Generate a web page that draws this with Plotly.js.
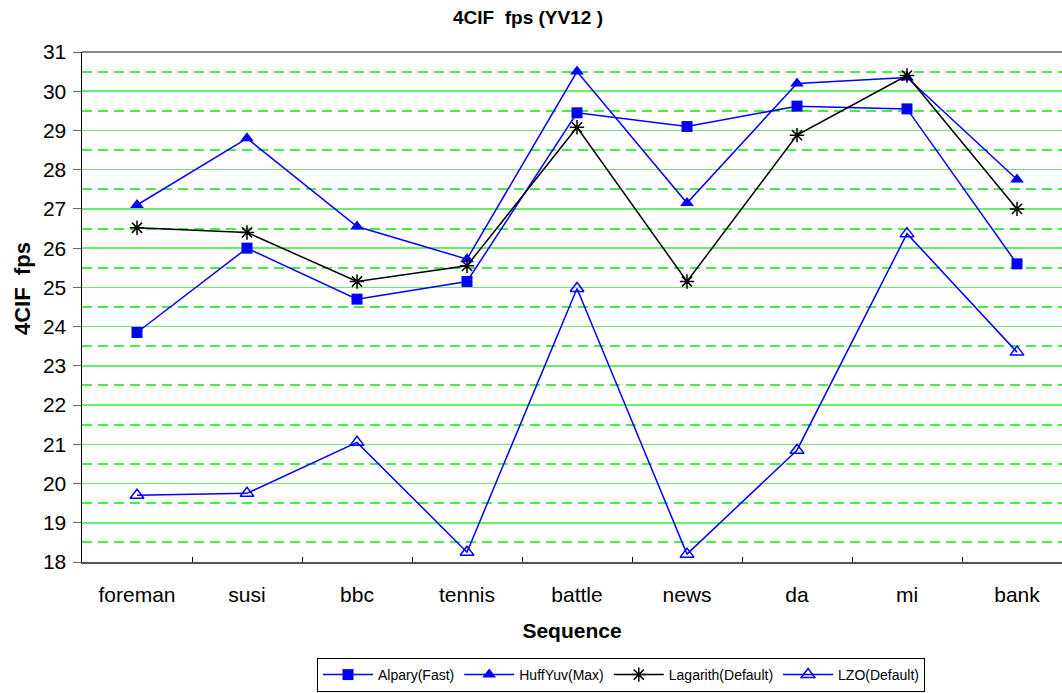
<!DOCTYPE html>
<html><head><meta charset="utf-8">
<script src="https://cdn.plot.ly/plotly-3.0.1.min.js"></script>
<style>html,body{margin:0;padding:0;overflow:hidden;background:#fff}</style>
</head><body><div id="chart"></div>
<script>
const categories = ["foreman","susi","bbc","tennis","battle","news","da","mi","bank"];
const alpary   = [23.85, 26.0, 24.7, 25.15, 29.45, 29.1, 29.62, 29.55, 25.6];
const huffyuv  = [27.1, 28.8, 26.55, 25.72, 30.5, 27.15, 30.2, 30.35, 27.75];
const lagarith = [26.52, 26.4, 25.15, 25.55, 29.08, 25.15, 28.88, 30.4, 27.0];
const lzo      = [19.7, 19.75, 21.05, 18.25, 24.97, 18.2, 20.85, 26.37, 23.35];
const seriesNames = ["Alpary(Fast)","HuffYuv(Max)","Lagarith(Default)","LZO(Default)"];
const yTicks = [18,19,20,21,22,23,24,25,26,27,28,29,30,31];
const yHalfTicks = [18.5,19.5,20.5,21.5,22.5,23.5,24.5,25.5,26.5,27.5,28.5,29.5,30.5];

const font = "Arial, 'Liberation Sans', sans-serif";
const W = 1062, H = 693, L = 82, T = 52, B = 131;
const plotW = W - L, plotH = H - T - B;
const traces = [
  {x:categories, y:alpary, name:seriesNames[0], mode:'lines+markers',
   line:{color:'#0000ff', width:1.5}, marker:{symbol:'square', size:11, color:'#0000ff'}},
  {x:categories, y:huffyuv, name:seriesNames[1], mode:'lines+markers',
   line:{color:'#0000ff', width:1.5}, marker:{symbol:'triangle-up', size:12, color:'#0000ff'}},
  {x:categories, y:lagarith, name:seriesNames[2], mode:'lines+markers',
   line:{color:'#000000', width:1.5}, marker:{symbol:'asterisk-open', size:12, color:'#000000', line:{color:'#000000', width:1.5}}},
  {x:categories, y:lzo, name:seriesNames[3], mode:'lines+markers',
   line:{color:'#0000ff', width:1.5}, marker:{symbol:'triangle-up-open', size:12, color:'#0000ff', line:{color:'#0000ff', width:1.5}}},
  {x:[categories[0]], y:[null], yaxis:'y2', showlegend:false, hoverinfo:'skip', mode:'markers'}
];

const layout = {
  width: W, height: H,
  margin: {l:L, r:0, t:T, b:B, autoexpand:false},
  paper_bgcolor:'#ffffff', plot_bgcolor:'#ffffff',
  font: {family: font, color:'#000'},
  title: {text:'<b>4CIF  fps (YV12 )</b>', font:{size:19, family:font, color:'#000'},
          x: 528/W, xanchor:'center', y: 1-17/H, yanchor:'middle'},
  showlegend: true,
  legend: {orientation:'h', x:(621-L)/plotW, xanchor:'center', y:-(692-562)/plotH, yanchor:'bottom',
           bordercolor:'#000', borderwidth:1, font:{size:14, family:font},
           itemwidth:50, tracegroupgap:0},
  xaxis: {
    type:'category', range:[-0.5, 8.5 - 10/110], fixedrange:true,
    tickson:'boundaries', ticks:'inside', ticklen:5, tickcolor:'#000', tickwidth:1,
    showline:true, linecolor:'#555', linewidth:2, showgrid:false, zeroline:false,
    tickfont:{size:21, family:font}, ticklabelstandoff:13,
    title:{text:'<b>Sequence</b>', font:{size:21, family:font}, standoff:18}
  },
  yaxis2: {
    overlaying:'y', range:[18,31], fixedrange:true, tickvals:yHalfTicks,
    showticklabels:false, ticks:'', showline:false, zeroline:false,
    showgrid:true, gridcolor:'#44ee44', griddash:'10px,6px', gridwidth:2
  },
  yaxis: {
    range:[18,31], tickvals:yTicks, ticktext:yTicks.map(String), fixedrange:true,
    ticks:'outside', ticklen:8, tickcolor:'#666', tickwidth:1,
    showline:true, linecolor:'#000', linewidth:1.5, zeroline:false,
    showgrid:true, gridcolor:'#66ee66', gridwidth:1.5,
    tickfont:{size:21, family:font}, ticklabelstandoff:2
  },
  annotations: [
    {text:'<b>4CIF  fps</b>', textangle:-90, xref:'paper', yref:'paper',
     x:(22-L)/plotW, y:(562-289)/plotH, xanchor:'center', yanchor:'middle', showarrow:false,
     font:{size:22, family:font, color:'#000'}}
  ],
  shapes: [
    {type:'line', xref:'paper', yref:'paper', x0:0, x1:1, y0:1, y1:1, line:{color:'#888888', width:2}}
  ]
};
Plotly.newPlot('chart', traces, layout, {staticPlot:true, displayModeBar:false});
</script></body></html>
